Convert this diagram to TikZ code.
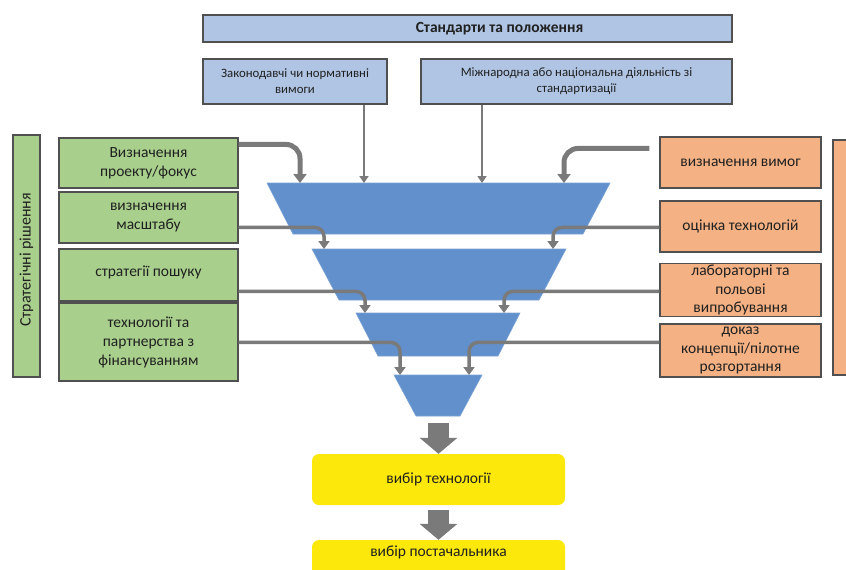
\documentclass[tikz,border=0pt]{standalone}
\usepackage{fontspec}
\setmainfont{Carlito}
\usetikzlibrary{arrows.meta,calc}
\definecolor{boxblue}{HTML}{B0C5E4}
\definecolor{boxgreen}{HTML}{A8CF8C}
\definecolor{boxorange}{HTML}{F4B183}
\definecolor{boxyellow}{HTML}{FCE80A}
\definecolor{funnelblue}{HTML}{6290CC}
\definecolor{conngray}{HTML}{7A7A7A}
\definecolor{bordergray}{HTML}{505050}
\definecolor{textdark}{HTML}{202020}
\begin{document}
\begin{tikzpicture}[x=1pt,y=-1pt,
  box/.style={draw=bordergray, line width=1.1pt, inner sep=1pt, align=center, text=textdark},
  gbox/.style={box, fill=boxgreen, minimum width=179pt, font=\fontsize{15.5}{19}\selectfont},
  obox/.style={box, fill=boxorange, minimum width=161pt, font=\fontsize{15.5}{18.5}\selectfont},
  bbox/.style={box, fill=boxblue, minimum height=45pt, font=\fontsize{12.8}{16}\selectfont},
  ybox/.style={fill=boxyellow, rounded corners=7pt, minimum width=253pt, align=center, text=textdark, font=\fontsize{15.5}{18}\selectfont},
  funnel/.style={fill=funnelblue, draw=funnelblue!85!white, line width=0.6pt},
  feed/.style={draw=conngray, line width=3.5pt, rounded corners=9pt, -{Triangle[width=11pt,length=8pt]}},
  feedtop/.style={feed, line width=5pt, rounded corners=14pt, -{Triangle[width=13pt,length=9pt]}},
  drop/.style={draw=conngray, line width=2.5pt, -{Triangle[width=9pt,length=7pt]}},
  bigarrow/.style={draw=conngray, line width=21pt, -{Triangle[width=37pt,length=16pt]}}
]
\useasboundingbox (0,0) rectangle (846,570);
\clip (0,0) rectangle (846,570);

% top blue boxes
\node[box, fill=boxblue, minimum width=529pt, minimum height=27pt, font=\bfseries\fontsize{15.5}{18}\selectfont] (std) at (467.5,28.5) {\hspace*{64pt}Стандарти та положення};
\node[bbox, minimum width=184pt] (b1) at (295,81.5) {Законодавчі чи нормативні\\вимоги};
\node[bbox, minimum width=311pt] (b2) at (576.5,81.5) {Міжнародна або національна діяльність зі\\стандартизації};

% left green boxes
\node[gbox, rotate=90, minimum width=242pt, minimum height=27pt, font=\fontsize{16}{19}\selectfont] (side) at (26.5,256) {Стратегічні рішення\hspace*{8pt}};
\node[gbox, minimum height=50pt] (g1) at (148.5,163) {Визначення\\проекту/фокус};
\node[gbox, minimum height=51pt] (g2) at (148.5,217.5) {визначення\\масштабу};
\node[gbox, minimum height=52pt] (g3) at (148.5,275) {\raisebox{7pt}{стратегії пошуку}};
\node[gbox, minimum height=78pt] (g4) at (148.5,342) {технології та\\партнерства з\\фінансуванням};

% right orange boxes
\node[obox, minimum height=51pt] (o1) at (740.5,162.5) {визначення вимог};
\node[obox, minimum height=51pt] (o2) at (740.5,226.5) {оцінка технологій};
\node[obox, minimum height=52pt] (o3) at (740.5,290) {лабораторні та\\польові\\випробування};
\node[obox, minimum height=53pt] (o4) at (740.5,350.5) {доказ\\концепції/пілотне\\розгортання};
\node[box, fill=boxorange, minimum width=40pt, minimum height=235pt] (side2) at (853,257.5) {};

% funnel
\fill[funnel] (267,183) -- (610,183) -- (583,234) -- (293,234) -- cycle;
\fill[funnel] (312,249) -- (566,249) -- (539,300) -- (339,300) -- cycle;
\fill[funnel] (356,313) -- (520,313) -- (498,356) -- (378,356) -- cycle;
\fill[funnel] (394,375) -- (482,375) -- (460,416) -- (416,416) -- cycle;

% connector end points
\coordinate (f1l) at (300,183);
\coordinate (f1r) at (564,183);
\coordinate (f2l) at (324,249);
\coordinate (f2r) at (553,249);
\coordinate (f3l) at (365,313);
\coordinate (f3r) at (504,313);
\coordinate (f4l) at (400,375);
\coordinate (f4r) at (469,375);
\coordinate (fb1) at (364,183);
\coordinate (fb2) at (482,183);
\coordinate (fout) at (438.5,423);
\coordinate (ymid) at (438.5,510);

% connectors
\draw[feedtop] ($(g1.north east)+(0,7)$) -| (f1l);
\draw[feedtop] ($(o1.north west)+(-10,12)$) -| (f1r);
\draw[feed] ($(g2.north east)+(0,36)$) -| (f2l);
\draw[feed] ($(o2.north west)+(0,27)$) -| (f2r);
\draw[feed] ($(g3.north east)+(0,43)$) -| (f3l);
\draw[feed] ($(o3.north west)+(0,28)$) -| (f3r);
\draw[feed] ($(g4.north east)+(0,40)$) -| (f4l);
\draw[feed] ($(o4.north west)+(0,19)$) -| (f4r);
\draw[drop] (b1.south -| fb1) -- (fb1);
\draw[drop] (b2.south -| fb2) -- (fb2);

% yellow boxes
\node[ybox, minimum height=51pt] (y1) at (438.5,479.5) {вибір технології};
\node[ybox, minimum height=52pt] (y2) at (438.5,566) {\raisebox{10pt}[0pt][0pt]{вибір постачальника}};

\draw[bigarrow] (fout) -- (y1.north);
\draw[bigarrow] (ymid) -- (y2.north);
\end{tikzpicture}
\end{document}
